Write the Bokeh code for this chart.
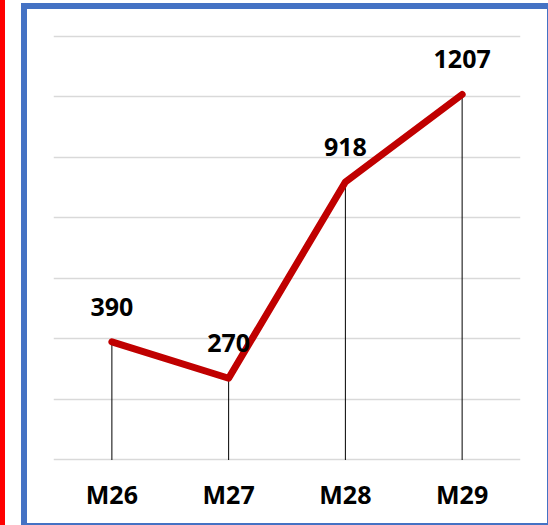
from bokeh.plotting import figure
from bokeh.models import FactorRange, Range1d, ColumnDataSource, FixedTicker, GlobalInlineStyleSheet
from bokeh.core.properties import value
from bokeh.embed import file_html
from bokeh.resources import INLINE

# Data
categories = ["M26", "M27", "M28", "M29"]
values = [390, 270, 918, 1207]
labels = ["390", "270", "918", "1207"]
grid_ticks = [0, 200, 400, 600, 800, 1000, 1200, 1400]

FONT = "Noto Sans"

src = ColumnDataSource(dict(cat=categories, val=values, lab=labels, zero=[0] * len(values)))

p = figure(
    width=548, height=525,
    x_range=FactorRange(*categories, range_padding=0),
    y_range=Range1d(-5, 1405),
    output_backend="svg", toolbar_location=None,
    min_border_left=53, min_border_right=28,
    min_border_top=34, min_border_bottom=64,
)
page_css = """
html, body { margin: 0 !important; padding: 0 !important; overflow: hidden; background: white; }
body::before { content: ""; position: fixed; left: 0; top: 0; width: 5px; height: 100%;
               background: #FF0000; z-index: 1000; pointer-events: none; }
body::after { content: ""; position: fixed; left: 21px; top: 3px; width: 532px; height: 526px;
              box-sizing: border-box; border: 6px solid #4472C4; z-index: 1000; pointer-events: none; }
"""
p.stylesheets = [GlobalInlineStyleSheet(css=page_css)]
p.outline_line_color = None
p.background_fill_color = "white"
p.border_fill_color = "white"

# axes
p.yaxis.visible = False
xa = p.xaxis[0]
xa.axis_line_color = None
xa.major_tick_line_color = None
xa.minor_tick_line_color = None
xa.major_tick_out = 0
xa.major_tick_in = 0
xa.major_label_standoff = 15
xa.major_label_text_font = FONT
xa.major_label_text_font_style = "bold"
xa.major_label_text_font_size = "25px"
xa.major_label_text_color = "black"

# grids
p.xgrid.grid_line_color = None
p.ygrid.ticker = FixedTicker(ticks=grid_ticks)
p.ygrid.grid_line_color = "#d9d9d9"
p.ygrid.grid_line_width = 1.5

# drop lines
p.segment(x0="cat", y0="zero", x1="cat", y1="val", source=src, line_color="black", line_width=1)

# main line
p.line(x="cat", y="val", source=src, line_color="#C00000", line_width=7,
       line_cap="round", line_join="round")

# data labels
p.text(x="cat", y="val", text="lab", source=src, y_offset=-35,
       text_align="center", text_baseline="middle",
       text_font=value(FONT), text_font_style="bold", text_font_size="25px",
       text_color="black")

open("out.html", "w").write(file_html(p, INLINE))
